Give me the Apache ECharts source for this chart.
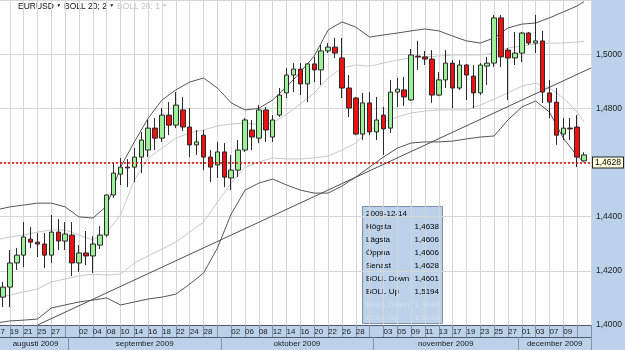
<!DOCTYPE html>
<html>
<head>
<meta charset="utf-8">
<script src="https://cdn.jsdelivr.net/npm/echarts@6/dist/echarts.min.js"></script>
<style>
html, body { margin: 0; padding: 0; background: #bcd2ea; overflow: hidden; }
/* the first day sits just left of the visible area, so the canvas starts 7px early */
#chart { position: absolute; left: -7px; top: 0; width: 632px; height: 350px; }
</style>
</head>
<body>
<div id="chart"></div>
<script>
// trading days shown on the x axis
var dates = [
    '2009-08-17','2009-08-18','2009-08-19','2009-08-20','2009-08-21','2009-08-24','2009-08-25','2009-08-26','2009-08-27','2009-08-28','2009-08-31',
    '2009-09-01','2009-09-02','2009-09-03','2009-09-04','2009-09-07','2009-09-08','2009-09-09','2009-09-10','2009-09-11','2009-09-14','2009-09-15',
    '2009-09-16','2009-09-17','2009-09-18','2009-09-21','2009-09-22','2009-09-23','2009-09-24','2009-09-25','2009-09-28','2009-09-29','2009-09-30',
    '2009-10-01','2009-10-02','2009-10-05','2009-10-06','2009-10-07','2009-10-08','2009-10-09','2009-10-12','2009-10-13','2009-10-14','2009-10-15',
    '2009-10-16','2009-10-19','2009-10-20','2009-10-21','2009-10-22','2009-10-23','2009-10-26','2009-10-27','2009-10-28','2009-10-29','2009-10-30',
    '2009-11-02','2009-11-03','2009-11-04','2009-11-05','2009-11-06','2009-11-09','2009-11-10','2009-11-11','2009-11-12','2009-11-13','2009-11-16',
    '2009-11-17','2009-11-18','2009-11-19','2009-11-20','2009-11-23','2009-11-24','2009-11-25','2009-11-26','2009-11-27','2009-11-30',
    '2009-12-01','2009-12-02','2009-12-03','2009-12-04','2009-12-07','2009-12-08','2009-12-09','2009-12-10','2009-12-11','2009-12-14'
];

// EURUSD candles: [open, close, low, high]
var candles = [
    [1.4120, 1.4095, 1.4070, 1.4140],
    [1.4103, 1.4140, 1.4066, 1.4159],
    [1.4140, 1.4229, 1.4066, 1.4277],
    [1.4229, 1.4258, 1.4203, 1.4284],
    [1.4258, 1.4325, 1.4214, 1.4380],
    [1.4317, 1.4306, 1.4284, 1.4362],
    [1.4306, 1.4299, 1.4251, 1.4340],
    [1.4299, 1.4258, 1.4210, 1.4340],
    [1.4258, 1.4343, 1.4229, 1.4406],
    [1.4343, 1.4310, 1.4277, 1.4391],
    [1.4310, 1.4336, 1.4277, 1.4380],
    [1.4332, 1.4229, 1.4181, 1.4380],
    [1.4229, 1.4266, 1.4196, 1.4295],
    [1.4266, 1.4255, 1.4221, 1.4347],
    [1.4255, 1.4299, 1.4192, 1.4328],
    [1.4295, 1.4332, 1.4280, 1.4365],
    [1.4332, 1.4480, 1.4325, 1.4482],
    [1.4480, 1.4561, 1.4469, 1.4598],
    [1.4557, 1.4583, 1.4517, 1.4617],
    [1.4583, 1.4580, 1.4509, 1.4613],
    [1.4583, 1.4620, 1.4528, 1.4653],
    [1.4620, 1.4683, 1.4561, 1.4713],
    [1.4646, 1.4727, 1.4620, 1.4757],
    [1.4727, 1.4690, 1.4646, 1.4764],
    [1.4690, 1.4775, 1.4676, 1.4801],
    [1.4775, 1.4738, 1.4701, 1.4823],
    [1.4738, 1.4812, 1.4727, 1.4860],
    [1.4794, 1.4731, 1.4716, 1.4842],
    [1.4731, 1.4665, 1.4620, 1.4801],
    [1.4665, 1.4676, 1.4628, 1.4720],
    [1.4701, 1.4620, 1.4572, 1.4720],
    [1.4620, 1.4583, 1.4528, 1.4646],
    [1.4591, 1.4639, 1.4543, 1.4676],
    [1.4639, 1.4546, 1.4509, 1.4672],
    [1.4543, 1.4572, 1.4498, 1.4628],
    [1.4572, 1.4646, 1.4546, 1.4683],
    [1.4646, 1.4757, 1.4639, 1.4764],
    [1.4720, 1.4694, 1.4646, 1.4757],
    [1.4690, 1.4794, 1.4672, 1.4812],
    [1.4794, 1.4720, 1.4676, 1.4805],
    [1.4694, 1.4757, 1.4676, 1.4775],
    [1.4775, 1.4849, 1.4768, 1.4875],
    [1.4857, 1.4923, 1.4838, 1.4949],
    [1.4923, 1.4945, 1.4860, 1.4967],
    [1.4945, 1.4890, 1.4849, 1.4967],
    [1.4890, 1.4964, 1.4823, 1.4967],
    [1.4964, 1.4942, 1.4897, 1.4990],
    [1.4942, 1.5012, 1.4886, 1.5034],
    [1.5012, 1.5026, 1.5004, 1.5041],
    [1.5026, 1.5004, 1.4986, 1.5060],
    [1.4986, 1.4875, 1.4838, 1.5060],
    [1.4875, 1.4801, 1.4768, 1.4923],
    [1.4838, 1.4705, 1.4701, 1.4842],
    [1.4705, 1.4820, 1.4683, 1.4857],
    [1.4820, 1.4713, 1.4701, 1.4860],
    [1.4713, 1.4757, 1.4683, 1.4842],
    [1.4775, 1.4724, 1.4628, 1.4805],
    [1.4727, 1.4860, 1.4709, 1.4905],
    [1.4860, 1.4871, 1.4805, 1.4912],
    [1.4868, 1.4842, 1.4809, 1.4916],
    [1.4831, 1.4997, 1.4827, 1.5019],
    [1.4993, 1.4990, 1.4942, 1.5049],
    [1.4990, 1.4982, 1.4960, 1.5012],
    [1.4982, 1.4849, 1.4820, 1.5015],
    [1.4849, 1.4905, 1.4845, 1.4934],
    [1.4905, 1.4967, 1.4875, 1.5015],
    [1.4967, 1.4875, 1.4801, 1.4978],
    [1.4875, 1.4960, 1.4868, 1.4978],
    [1.4960, 1.4923, 1.4831, 1.4964],
    [1.4919, 1.4857, 1.4801, 1.4960],
    [1.4857, 1.4960, 1.4849, 1.4967],
    [1.4956, 1.4967, 1.4886, 1.4990],
    [1.4967, 1.5134, 1.4953, 1.5145],
    [1.5134, 1.4990, 1.4953, 1.5145],
    [1.5015, 1.4986, 1.4831, 1.5023],
    [1.4986, 1.5004, 1.4960, 1.5082],
    [1.5004, 1.5078, 1.4971, 1.5082],
    [1.5078, 1.5041, 1.5034, 1.5082],
    [1.5041, 1.5049, 1.5004, 1.5145],
    [1.5049, 1.4860, 1.4820, 1.5086],
    [1.4857, 1.4823, 1.4764, 1.4905],
    [1.4823, 1.4701, 1.4665, 1.4875],
    [1.4705, 1.4727, 1.4683, 1.4764],
    [1.4727, 1.4724, 1.4683, 1.4764],
    [1.4731, 1.4620, 1.4583, 1.4775],
    [1.4606, 1.4628, 1.4606, 1.4638]
];

// bollinger bands, read at these day indexes
var bandIdx = [0, 2, 4, 6, 8, 10, 12, 14, 16, 18, 20, 22, 24, 26, 28, 30, 32, 34, 36, 38, 40, 42,
    44, 46, 48, 50, 52, 54, 56, 58, 60, 62, 64, 66, 68, 70, 72, 74, 76, 78, 80, 82, 84, 85];
var bollUp2 = [1.4425, 1.4436, 1.4443, 1.4450, 1.4450, 1.4436, 1.4399, 1.4395, 1.4439, 1.4583, 1.4676,
    1.4764, 1.4831, 1.4868, 1.4897, 1.4912, 1.4875, 1.4820, 1.4794, 1.4800, 1.4831, 1.4879, 1.4934,
    1.4993, 1.5089, 1.5119, 1.5100, 1.5063, 1.5071, 1.5078, 1.5086, 1.5093, 1.5086, 1.5067, 1.5049,
    1.5041, 1.5060, 1.5097, 1.5111, 1.5115, 1.5134, 1.5156, 1.5178, 1.5194];
var bollDown2 = [1.4007, 1.4015, 1.4018, 1.4022, 1.4063, 1.4074, 1.4085, 1.4092, 1.4100, 1.4074, 1.4085,
    1.4096, 1.4103, 1.4114, 1.4151, 1.4192, 1.4284, 1.4410, 1.4498, 1.4524, 1.4539, 1.4517, 1.4498,
    1.4487, 1.4487, 1.4513, 1.4546, 1.4583, 1.4620, 1.4653, 1.4672, 1.4676, 1.4676, 1.4679, 1.4687,
    1.4694, 1.4698, 1.4757, 1.4805, 1.4827, 1.4786, 1.4690, 1.4624, 1.4601];
var bollUp1 = [1.4314, 1.4325, 1.4332, 1.4343, 1.4351, 1.4351, 1.4332, 1.4314, 1.4343, 1.4406, 1.4535,
    1.4617, 1.4653, 1.4690, 1.4709, 1.4720, 1.4735, 1.4742, 1.4746, 1.4740, 1.4746, 1.4779, 1.4816,
    1.4857, 1.4912, 1.4949, 1.4960, 1.4956, 1.4967, 1.4978, 1.4986, 1.4990, 1.4993, 1.4997, 1.4997,
    1.4997, 1.5004, 1.5023, 1.5030, 1.5038, 1.5041, 1.5041, 1.5045, 1.5048];
var bollDown1 = [1.4100, 1.4111, 1.4122, 1.4133, 1.4159, 1.4170, 1.4181, 1.4188, 1.4184, 1.4188, 1.4229,
    1.4255, 1.4280, 1.4306, 1.4343, 1.4380, 1.4454, 1.4524, 1.4583, 1.4602, 1.4617, 1.4613, 1.4613,
    1.4617, 1.4624, 1.4646, 1.4672, 1.4720, 1.4749, 1.4768, 1.4783, 1.4790, 1.4794, 1.4794, 1.4794,
    1.4812, 1.4834, 1.4857, 1.4882, 1.4893, 1.4875, 1.4838, 1.4786, 1.4749];

// hand drawn trend line: [day index, price]
var trend = [[6, 1.4000], [86, 1.4949]];

var monthNames = ['januari', 'februari', 'mars', 'april', 'maj', 'juni', 'juli',
    'augusti', 'september', 'oktober', 'november', 'december'];

var font = 'Liberation Sans, Arial, sans-serif';
var N = dates.length;
var shift = 7;                       // canvas starts this many px left of the page
var chartW = 625 + shift;
var gridLeft = 0.5, gridRight = 33;
var cats = dates.concat(['']);       // one empty slot at the right edge
var last = candles[N - 1];

function price(v) { return v.toFixed(4).replace('.', ','); }
function monthOf(i) { return dates[i] ? dates[i].slice(0, 7) : null; }
function isCell(i) { return i % 2 === 0; }
// a day cell keeps its label only if it fits inside one month
function showDay(i) { return isCell(i) && i + 2 < N && monthOf(i + 1) === monthOf(i); }
function band(arr) {
    return bandIdx.map(function (d, k) { return [d, arr[k]]; });
}

// month row: borders between months, label in the middle of the visible part
var monthEdges = [], monthMids = [], monthText = {};
var step = (chartW - gridRight - gridLeft) / N;
var from = (shift - gridLeft) / step;
for (var i = 0; i < N; i++) {
    if (i === N - 1 || monthOf(i + 1) !== monthOf(i)) {
        var to = i === N - 1 ? N : i + 0.5;
        var mid = (from + to) / 2;
        monthEdges.push(to);
        monthMids.push(mid);
        monthText[mid.toFixed(3)] = monthNames[+dates[i].slice(5, 7) - 1] + ' ' + dates[i].slice(0, 4);
        from = to;
    }
}

// data box in the lower middle
var boxRows = [
    [dates[N - 1], ''],
    ['Högsta', price(last[3])],
    ['Lägsta', price(last[2])],
    ['Öppna', price(last[0])],
    ['Senast', price(last[1])],
    ['BOLL Down', price(bollDown2[bollDown2.length - 1])],
    ['BOLL Up', price(bollUp2[bollUp2.length - 1])],
    ['BOLL Down', price(bollDown1[bollDown1.length - 1])],
    ['BOLL Up', price(bollUp1[bollUp1.length - 1])]
];
var boxChildren = [{
    type: 'rect',
    shape: { x: 0.5, y: 0.5, width: 80, height: 117 },
    style: { fill: '#bcd2ea', stroke: '#7b90aa', lineWidth: 1 }
}];
boxRows.forEach(function (r, k) {
    var c = k >= 7 ? '#d3dfec' : '#000000';
    boxChildren.push({ type: 'text', x: 4, y: 8 + k * 13,
        style: { text: r[0], fill: c, font: '8px ' + font, align: 'left', verticalAlign: 'middle' } });
    boxChildren.push({ type: 'text', x: 77, y: 8 + k * 13,
        style: { text: r[1], fill: c, font: '8px ' + font, align: 'right', verticalAlign: 'middle' } });
});

// indicator names in the top left corner
function legendText(x, name, color) {
    return {
        type: 'text', left: x + shift, top: 2,
        style: {
            text: name + ' {t|▼}', fill: color, font: '8.5px ' + font,
            rich: { t: { fontSize: 5, fill: color, padding: [0, 0, 1, 0] } }
        }
    };
}

var chart = echarts.init(document.getElementById('chart'));

var option = {
    backgroundColor: '#bcd2ea',
    animation: false,
    grid: {
        left: gridLeft, right: gridRight, top: 0, bottom: 25,
        show: true, backgroundColor: '#ffffff', borderWidth: 0
    },
    xAxis: [
        {
            type: 'category',
            data: cats,
            boundaryGap: false,
            axisLine: { lineStyle: { color: '#4d5b6b' } },
            axisTick: { interval: function (i) { return isCell(i); }, length: 12, lineStyle: { color: '#8393a7' } },
            axisLabel: {
                interval: function (i) { return showDay(i); },
                formatter: function (v) { return v.slice(8, 10); },
                align: 'left', margin: 3,
                fontSize: 8, fontFamily: font, color: '#1a1a1a'
            },
            splitLine: { show: true, interval: function (i) { return isCell(i); }, lineStyle: { color: '#d6d6d6' } }
        },
        {
            type: 'value',
            min: 0, max: N,
            position: 'bottom', offset: 12,
            axisLine: { show: true, lineStyle: { color: '#4d5b6b' } },
            axisTick: { show: true, customValues: monthEdges, length: 13, lineStyle: { color: '#8393a7' } },
            axisLabel: {
                customValues: monthMids,
                formatter: function (v) { return monthText[v.toFixed(3)] || ''; },
                margin: 3, fontSize: 8, fontFamily: font, color: '#1a1a1a'
            },
            splitLine: { show: false }
        }
    ],
    yAxis: {
        type: 'value',
        position: 'right',
        min: 1.40, max: 1.52, interval: 0.02,
        axisLine: { show: true, lineStyle: { color: '#4a4a4a' } },
        axisTick: { show: true, length: 4, lineStyle: { color: '#333' } },
        minorTick: { show: true, splitNumber: 10, length: 2, lineStyle: { color: '#333' } },
        axisLabel: { formatter: price, margin: 5, showMaxLabel: false, fontSize: 8.5, fontFamily: font, color: '#1a1a1a' },
        splitLine: { lineStyle: { color: '#d6d6d6' } }
    },
    series: [
        {
            name: 'BOLL 20; 1', type: 'line', data: band(bollUp1), showSymbol: false, z: 1,
            lineStyle: { color: '#c8c8c8', width: 1 }
        },
        {
            name: 'BOLL 20; 1', type: 'line', data: band(bollDown1), showSymbol: false, z: 1,
            lineStyle: { color: '#c8c8c8', width: 1 }
        },
        {
            name: 'BOLL 20; 2', type: 'line', data: band(bollUp2), showSymbol: false, z: 1,
            lineStyle: { color: '#555555', width: 1 }
        },
        {
            name: 'BOLL 20; 2', type: 'line', data: band(bollDown2), showSymbol: false, z: 1,
            lineStyle: { color: '#555555', width: 1 }
        },
        {
            name: 'trend', type: 'line', data: trend, showSymbol: false, z: 1, clip: false,
            lineStyle: { color: '#505050', width: 1 },
            markLine: {
                silent: true, symbol: 'none',
                data: [{ yAxis: last[1] }],
                lineStyle: { color: '#e00000', type: [2, 2], width: 1.5 },
                label: {
                    position: 'end', distance: 2,
                    formatter: function () { return price(last[1]); },
                    backgroundColor: '#ffffe1', borderColor: '#222', borderWidth: 1,
                    padding: [1, 2, 0, 2], color: '#000', fontSize: 8.5, fontFamily: font
                }
            }
        },
        {
            name: 'EURUSD', type: 'candlestick', data: candles, barWidth: 5, z: 3,
            itemStyle: {
                color: '#9def9a', color0: '#ee1111',
                borderColor: '#2a2a2a', borderColor0: '#2a2a2a', borderWidth: 1
            }
        }
    ],
    graphic: [
        legendText(18, 'EURUSD', '#111111'),
        legendText(64, 'BOLL 20; 2', '#111111'),
        legendText(117, 'BOLL 20; 1', '#c4c4c4'),
        { type: 'group', left: 362 + shift, top: 206, children: boxChildren }
    ]
};

chart.setOption(option);
</script>
</body>
</html>
